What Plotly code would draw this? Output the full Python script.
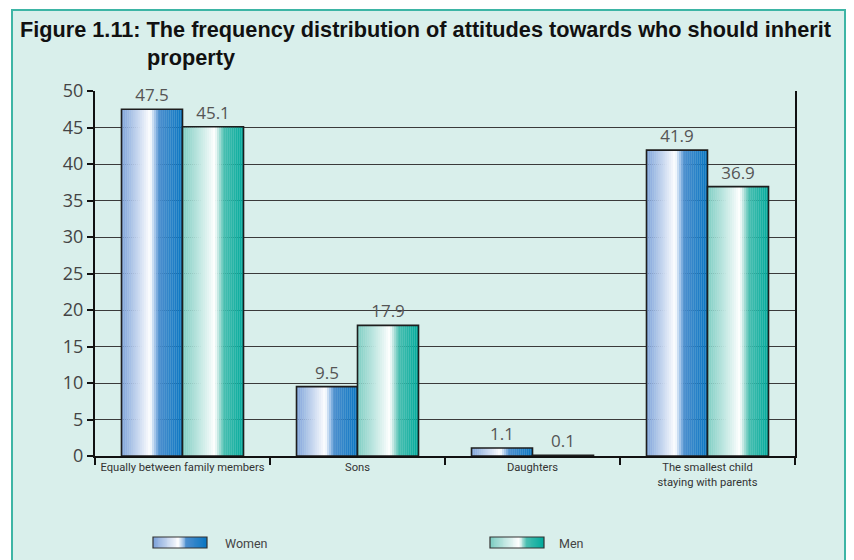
import plotly.graph_objects as go

categories = ["Equally between family members", "Sons", "Daughters",
              "The smallest child<br>staying with parents"]
women = [47.5, 9.5, 1.1, 41.9]
men = [45.1, 17.9, 0.1, 36.9]
women_labels = ["47.5", "9.5", "1.1", "41.9"]
men_labels = ["45.1", "17.9", "0.1", "36.9"]
y_ticks = [0, 5, 10, 15, 20, 25, 30, 35, 40, 45, 50]

W, H = 854, 560
OFF = 8  # page body margin
BG = "#D9EFEB"
NUM_FONT = "Open Sans, Lato, sans-serif"
TITLE_FONT = "Liberation Sans, Arial, sans-serif"
COND = "Roboto, Liberation Sans, sans-serif"

women_stops = [(0.0, (125, 162, 218)), (0.47, (255, 255, 255)), (0.55, (165, 198, 234)),
               (0.62, (75, 142, 206)), (1.0, (8, 118, 194))]
men_stops = [(0.0, (125, 205, 194)), (0.53, (255, 255, 255)), (0.60, (178, 226, 219)),
             (0.68, (72, 190, 176)), (1.0, (0, 170, 156))]


def interp(stops, t):
    for (t0, c0), (t1, c1) in zip(stops[:-1], stops[1:]):
        if t0 <= t <= t1:
            f = 0 if t1 == t0 else (t - t0) / (t1 - t0)
            c = [round(a + (b - a) * f) for a, b in zip(c0, c1)]
            return "rgb(%d,%d,%d)" % tuple(c)
    c = stops[-1][1]
    return "rgb(%d,%d,%d)" % c


def cscale(stops):
    return [[t, "rgb(%d,%d,%d)" % c] for t, c in stops]


BW = 0.3486
N = 30
fig = go.Figure()
for vals, base, stops, labels in [(women, -BW, women_stops, women_labels),
                                  (men, 0.0, men_stops, men_labels)]:
    sw = BW / N
    for i in range(N):
        t = (i + 0.5) / N
        fig.add_trace(go.Bar(x=categories, y=vals, width=sw * 1.08, offset=base + i * sw,
                             marker=dict(color=interp(stops, t), line=dict(width=0)),
                             showlegend=False, hoverinfo="skip"))
    fig.add_trace(go.Bar(x=categories, y=vals, width=BW, offset=base,
                         marker=dict(color="rgba(0,0,0,0)", line=dict(color="#1e1e1e", width=1.6)),
                         text=labels, textposition="outside", cliponaxis=False,
                         textfont=dict(family=NUM_FONT, size=17, color="#555555"),
                         showlegend=False))

# legend swatches (heatmaps in small inset axes)
grad = [[k / 59 for k in range(60)]]
fig.add_trace(go.Heatmap(z=grad, colorscale=cscale(women_stops), showscale=False,
                         xaxis="x2", yaxis="y2", hoverinfo="skip"))
fig.add_trace(go.Heatmap(z=grad, colorscale=cscale(men_stops), showscale=False,
                         xaxis="x3", yaxis="y3", hoverinfo="skip"))

def px(x):
    return (x - OFF) / W

def py(y):
    return 1 - (y - OFF) / H

shapes = [
    dict(type="rect", xref="paper", yref="paper", x0=px(12), x1=px(845), y0=py(10), y1=py(590),
         fillcolor=BG, line=dict(color="#3DB5A5", width=2), layer="below"),
    dict(type="rect", xref="paper", yref="paper", x0=px(153), x1=px(207), y0=py(548), y1=py(537),
         line=dict(color="#333333", width=1.2)),
    dict(type="rect", xref="paper", yref="paper", x0=px(490), x1=px(544), y0=py(548), y1=py(537),
         line=dict(color="#333333", width=1.2)),
]

annotations = [
    dict(text="<b>Figure 1.11: The frequency distribution of attitudes towards who should inherit</b>",
         xref="paper", yref="paper", x=px(18), y=py(30), xanchor="left", yanchor="middle",
         showarrow=False, font=dict(family=TITLE_FONT, size=21.7, color="#111111")),
    dict(text="<b>property</b>", xref="paper", yref="paper", x=px(145), y=py(57),
         xanchor="left", yanchor="middle", showarrow=False,
         font=dict(family=TITLE_FONT, size=21.7, color="#111111")),
    dict(text="Women", xref="paper", yref="paper", x=px(223), y=py(543), xanchor="left",
         yanchor="middle", showarrow=False, font=dict(family=COND, size=12.5, color="#444444")),
    dict(text="Men", xref="paper", yref="paper", x=px(557), y=py(543), xanchor="left",
         yanchor="middle", showarrow=False, font=dict(family=COND, size=12.5, color="#444444")),
]

fig.update_layout(
    width=W, height=H, margin=dict(l=0, r=0, t=0, b=0),
    paper_bgcolor="white", plot_bgcolor="rgba(0,0,0,0)",
    barmode="overlay", bargap=0.3,
    shapes=shapes, annotations=annotations, showlegend=False,
    xaxis=dict(domain=[px(95), px(795)], type="category", range=[-0.5, 3.5],
               tickson="boundaries", ticks="outside", ticklen=7, tickwidth=2, tickcolor="#111",
               showline=True, linecolor="#111", linewidth=1.5, showgrid=False,
               tickangle=0, automargin=False,
               tickfont=dict(family=COND, size=11.2, color="#333333"), fixedrange=True),
    yaxis=dict(domain=[py(456), py(91)], range=[0, 50], tickvals=y_ticks,
               ticks="outside", ticklen=6, tickwidth=1.5, tickcolor="#111",
               showline=True, linecolor="#111", linewidth=2, mirror=True, automargin=False,
               showgrid=True, gridcolor="#3a3a3a", gridwidth=1, zeroline=False,
               tickfont=dict(family=NUM_FONT, size=18, color="#444444")),
    xaxis2=dict(domain=[px(153), px(207)], anchor="y2", visible=False, fixedrange=True),
    yaxis2=dict(domain=[py(548), py(537)], anchor="x2", visible=False, fixedrange=True),
    xaxis3=dict(domain=[px(490), px(544)], anchor="y3", visible=False, fixedrange=True),
    yaxis3=dict(domain=[py(548), py(537)], anchor="x3", visible=False, fixedrange=True),
)

fig.write_html("out.html")
